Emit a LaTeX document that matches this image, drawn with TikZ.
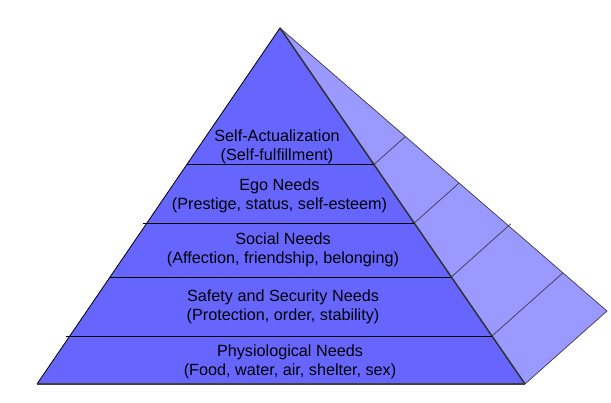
\documentclass[tikz,border=0pt]{standalone}
\usepackage{fontspec}
\setmainfont{Liberation Sans}
\usetikzlibrary{calc}
\definecolor{frontc}{HTML}{6666FF}
\definecolor{sidec}{HTML}{9999FF}
\definecolor{sideline}{HTML}{3A3A4A}
\tikzset{
  lvl/.style={align=center,font=\fontsize{16.2}{19}\selectfont,text=black,inner sep=0pt},
  tier/.style={draw=black,line width=0.9pt},
  split/.style={draw=sideline,line width=0.7pt}
}
\begin{document}
\begin{tikzpicture}[x=1pt,y=-1pt]
\useasboundingbox (0,0) rectangle (611,403);
\coordinate (A) at (280,28);
\coordinate (L) at (37,384);
\coordinate (R) at (525,384);
\coordinate (B) at (607,311);
% side face
\fill[sidec] (A) -- (B) -- (R) -- cycle;
\draw[split] (A) -- (B) -- (R);
% front face
\fill[frontc] (A) -- (L) -- (R) -- cycle;
\draw[black,line width=0.8pt] (R) -- (A) -- (L);
\draw[black!80,line width=1.4pt] (A) -- (R);
\draw[black!75,line width=1.2pt] (L) -- (R);
% tier lines
\draw[tier] ($(A)!0.3834!(L)$) -- ($(A)!0.3834!(R)$);
\draw[tier] ($(A)!0.5478!(L)+(-4,0)$) -- ($(A)!0.5478!(R)$);
\draw[tier] ($(A)!0.6994!(L)$) -- ($(A)!0.6994!(R)$);
\draw[tier] ($(A)!0.8652!(L)+(-4,0)$) -- ($(A)!0.8652!(R)$);
% side dividers
\draw[split] ($(A)!0.3834!(R)$) -- ($(A)!0.3834!(B)$);
\draw[split] ($(A)!0.5478!(R)$) -- ($(A)!0.5478!(B)$);
\draw[split] ($(A)!0.6994!(R)$) -- ($(A)!0.6994!(B)+(2,-2)$);
\draw[split] ($(A)!0.8652!(R)$) -- ($(A)!0.8652!(B)$);
% labels
\node[lvl] (sa) at (277,146.5) {Self-Actualization\\(Self-fulfillment)};
\node[lvl] (ego) at (279.5,196) {Ego Needs\\(Prestige, status, self-esteem)};
\node[lvl] (soc) at (283,250) {Social Needs\\(Affection, friendship, belonging)};
\node[lvl] (saf) at (283,306.5) {Safety and Security Needs\\(Protection, order, stability)};
\node[lvl] (phy) at (290,361.5) {Physiological Needs\\(Food, water, air, shelter, sex)};
\end{tikzpicture}
\end{document}
